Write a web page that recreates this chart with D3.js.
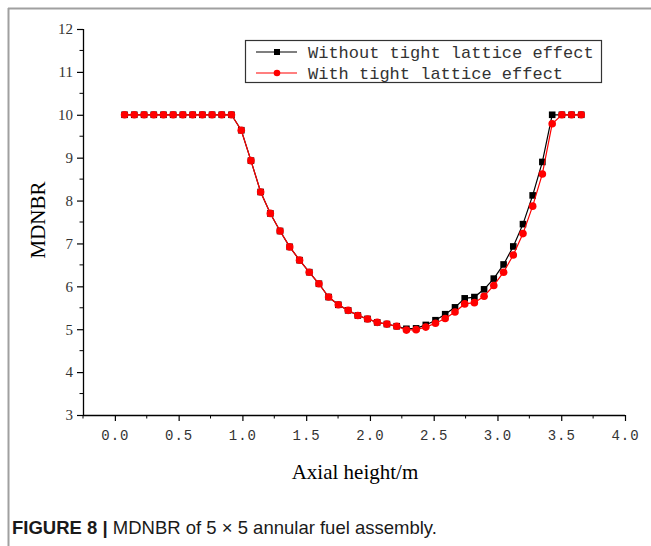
<!DOCTYPE html>
<html>
<head>
<meta charset="utf-8">
<script src="https://cdn.jsdelivr.net/npm/d3@7"></script>
<style>
  body { margin: 0; background: #fff; }
  #chart { width: 651px; height: 546px; }
</style>
</head>
<body>
<div id="chart"></div>
<script>
// axial node positions (m)
var axialHeight = [0.076, 0.152, 0.229, 0.305, 0.381, 0.457, 0.533, 0.610, 0.686, 0.762, 0.838, 0.914,
  0.991, 1.067, 1.143, 1.219, 1.295, 1.371, 1.448, 1.524, 1.600, 1.676, 1.752, 1.829,
  1.905, 1.981, 2.057, 2.133, 2.210, 2.286, 2.362, 2.438, 2.514, 2.590, 2.667, 2.743,
  2.819, 2.895, 2.971, 3.048, 3.124, 3.200, 3.276, 3.352, 3.429, 3.505, 3.581, 3.657];

var withoutTight = [10, 10, 10, 10, 10, 10, 10, 10, 10, 10, 10, 10,
  9.64, 8.93, 8.20, 7.70, 7.29, 6.92, 6.61, 6.33, 6.06, 5.75, 5.57, 5.44,
  5.32, 5.24, 5.16, 5.12, 5.07, 5.01, 5.02, 5.10, 5.21, 5.35, 5.51, 5.72,
  5.75, 5.93, 6.18, 6.51, 6.93, 7.45, 8.12, 8.90, 10, 10, 10, 10];

var withTight = [10, 10, 10, 10, 10, 10, 10, 10, 10, 10, 10, 10,
  9.64, 8.93, 8.20, 7.70, 7.29, 6.92, 6.61, 6.33, 6.06, 5.75, 5.57, 5.44,
  5.32, 5.24, 5.16, 5.12, 5.07, 4.98, 4.99, 5.05, 5.14, 5.25, 5.40, 5.59,
  5.62, 5.77, 6.02, 6.33, 6.73, 7.23, 7.87, 8.62, 9.79, 10, 10, 10];

var seriesNames = ["Without tight lattice effect", "With tight lattice effect"];
var xTicks = [0, 0.5, 1, 1.5, 2, 2.5, 3, 3.5, 4];
var yTicks = [3, 4, 5, 6, 7, 8, 9, 10, 11, 12];

(function() {
  var width = 651, height = 546;
  var mLeft = 83, mRight = 625, mTop = 29, mBottom = 415;

  var svg = d3.select("#chart").append("svg")
    .attr("width", width)
    .attr("height", height);

  // figure frame (top + left only)
  svg.append("line").attr("x1", 8).attr("x2", width).attr("y1", 8.5).attr("y2", 8.5)
    .attr("stroke", "#a0a0a0").attr("stroke-width", 2);
  svg.append("line").attr("x1", 8.5).attr("x2", 8.5).attr("y1", 8).attr("y2", height)
    .attr("stroke", "#a0a0a0").attr("stroke-width", 2);

  var x = d3.scaleLinear().domain([-0.25, 4]).range([mLeft, mRight]);
  var y = d3.scaleLinear().domain([3, 12]).range([mBottom, mTop]);

  // minor ticks
  var xMinor = [-0.25, 0.25, 0.75, 1.25, 1.75, 2.25, 2.75, 3.25, 3.75];
  var yMinor = [3.5, 4.5, 5.5, 6.5, 7.5, 8.5, 9.5, 10.5, 11.5];

  var xAxis = svg.append("g")
    .attr("transform", "translate(0," + mBottom + ")")
    .call(d3.axisBottom(x).tickValues(xTicks).tickSize(6).tickPadding(9)
      .tickFormat(d3.format(".1f")));
  xAxis.selectAll(".domain").attr("d", "M" + mLeft + ",0.5H" + mRight);
  xAxis.selectAll("text")
    .attr("font-family", "Liberation Mono")
    .attr("font-size", 14)
    .attr("letter-spacing", 1)
    .attr("fill", "#333");
  svg.append("g").selectAll("line").data(xMinor).enter().append("line")
    .attr("x1", function(d) { return x(d); }).attr("x2", function(d) { return x(d); })
    .attr("y1", mBottom).attr("y2", mBottom + 3.5)
    .attr("stroke", "#000");

  var yAxis = svg.append("g")
    .attr("transform", "translate(" + mLeft + ",0)")
    .call(d3.axisLeft(y).tickValues(yTicks).tickSize(6).tickPadding(4));
  yAxis.selectAll(".domain").attr("d", "M0.5," + mTop + "V" + mBottom);
  yAxis.selectAll("text").attr("font-family", "Liberation Serif").attr("font-size", 15).attr("fill", "#333");
  svg.append("g").selectAll("line").data(yMinor).enter().append("line")
    .attr("x1", mLeft - 3.5).attr("x2", mLeft)
    .attr("y1", function(d) { return y(d); }).attr("y2", function(d) { return y(d); })
    .attr("stroke", "#000");

  svg.selectAll(".tick line").attr("stroke-width", 1.2);
  svg.selectAll(".domain").attr("stroke-width", 1.3);

  // axis titles
  svg.append("text")
    .attr("transform", "translate(45,220) rotate(-90)")
    .attr("text-anchor", "middle")
    .attr("font-family", "Liberation Serif")
    .attr("font-size", 21)
    .text("MDNBR");

  svg.append("text")
    .attr("x", 355).attr("y", 479)
    .attr("text-anchor", "middle")
    .attr("font-family", "Liberation Serif")
    .attr("font-size", 21)
    .text("Axial height/m");

  var line = d3.line()
    .x(function(d) { return x(d[0]); })
    .y(function(d) { return y(d[1]); });

  var black = d3.zip(axialHeight, withoutTight);
  var red = d3.zip(axialHeight, withTight);

  svg.append("path").datum(black)
    .attr("d", line).attr("fill", "none").attr("stroke", "#000").attr("stroke-width", 1.2);
  svg.selectAll(".sq").data(black).enter().append("rect")
    .attr("class", "sq")
    .attr("x", function(d) { return x(d[0]) - 3.3; })
    .attr("y", function(d) { return y(d[1]) - 3.3; })
    .attr("width", 6.6).attr("height", 6.6)
    .attr("fill", "#000");

  svg.append("path").datum(red)
    .attr("d", line).attr("fill", "none").attr("stroke", "#ff0000").attr("stroke-width", 1.2);
  svg.selectAll(".dot").data(red).enter().append("circle")
    .attr("class", "dot")
    .attr("cx", function(d) { return x(d[0]); })
    .attr("cy", function(d) { return y(d[1]); })
    .attr("r", 3.8)
    .attr("fill", "#ff0000");

  // legend
  var legend = svg.append("g");
  legend.append("rect")
    .attr("x", 245.5).attr("y", 40.5).attr("width", 356).attr("height", 42)
    .attr("fill", "#fff").attr("stroke", "#333").attr("stroke-width", 1.2);

  var rows = [{ name: seriesNames[0], color: "#000", shape: "square", y: 52 },
              { name: seriesNames[1], color: "#ff0000", shape: "circle", y: 73 }];
  rows.forEach(function(r) {
    legend.append("line")
      .attr("x1", 256).attr("x2", 297).attr("y1", r.y).attr("y2", r.y)
      .attr("stroke", r.color).attr("stroke-width", 1.2);
    if (r.shape == "square") {
      legend.append("rect").attr("x", 274).attr("y", r.y - 3).attr("width", 6).attr("height", 6).attr("fill", r.color);
    } else {
      legend.append("circle").attr("cx", 277).attr("cy", r.y).attr("r", 3.3).attr("fill", r.color);
    }
    legend.append("text")
      .attr("x", 308).attr("y", r.y + 6)
      .attr("font-family", "Liberation Mono")
      .attr("font-size", 17)
      .attr("fill", "#333")
      .text(r.name);
  });

  // caption
  var cap = svg.append("text")
    .attr("x", 12).attr("y", 534)
    .attr("font-family", "Liberation Sans")
    .attr("font-size", 18.5)
    .attr("fill", "#1a1a1a");
  cap.append("tspan").attr("font-weight", "bold").text("FIGURE 8 | ");
  cap.append("tspan").text("MDNBR of 5 \u00d7 5 annular fuel assembly.");
})();
</script>
</body>
</html>
